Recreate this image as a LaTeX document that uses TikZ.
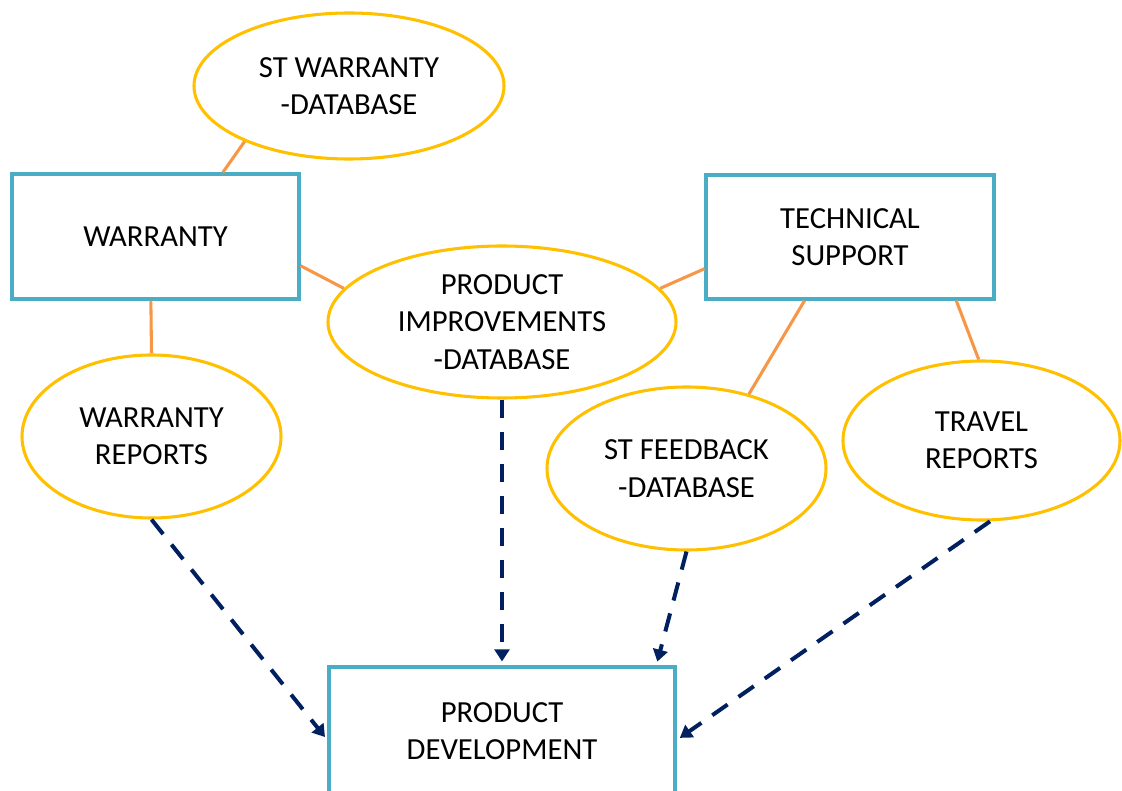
\documentclass[tikz,border=0pt]{standalone}
\usepackage{fontspec}
\setmainfont{Carlito}
\usetikzlibrary{shapes.geometric,arrows.meta,calc}
\definecolor{boxblue}{HTML}{4BACC6}
\definecolor{ellyellow}{HTML}{FFC000}
\definecolor{linkorange}{HTML}{F79646}
\definecolor{arrownavy}{HTML}{002060}
\begin{document}
\begin{tikzpicture}[x=0.75pt,y=-0.75pt,
  lbl/.style={font=\fontsize{23}{28}\selectfont, align=center, text=black},
  boxnode/.style={lbl, draw=boxblue, line width=2.3pt, fill=white, rectangle, inner sep=0pt},
  ellnode/.style={lbl, draw=ellyellow, line width=2.3pt, fill=white, ellipse, inner sep=0pt},
  link/.style={draw=linkorange, line width=2.3pt},
  flow/.style={draw=arrownavy, line width=3pt, dash pattern=on 14pt off 10pt,
    -{Triangle[length=9pt,width=11pt]}, shorten >=3pt}
]
\useasboundingbox (0,0) rectangle (1122,791);

\node[ellnode, minimum width=310*0.75pt, minimum height=146*0.75pt] (stw) at (349,86) {ST WARRANTY\\-DATABASE};
\node[boxnode, minimum width=287*0.75pt, minimum height=125*0.75pt] (war) at (155.5,236.5) {WARRANTY};
\node[boxnode, minimum width=288*0.75pt, minimum height=124*0.75pt] (ts) at (850,237) {TECHNICAL\\SUPPORT};
\node[ellnode, minimum width=348*0.75pt, minimum height=152*0.75pt] (pi) at (502,322) {PRODUCT\\IMPROVEMENTS\\-DATABASE};
\node[ellnode, minimum width=259*0.75pt, minimum height=163*0.75pt] (wr) at (151.5,436.5) {WARRANTY\\REPORTS};
\node[ellnode, minimum width=279*0.75pt, minimum height=163*0.75pt] (stf) at (686.5,468.5) {ST FEEDBACK\\-DATABASE};
\node[ellnode, minimum width=277*0.75pt, minimum height=159*0.75pt] (tr) at (981.5,440.5) {TRAVEL\\REPORTS};
\node[boxnode, minimum width=346*0.75pt, minimum height=128*0.75pt] (pd) at (502,731) {PRODUCT\\DEVELOPMENT};

% orange links
\draw[link] (stw.208) -- ($(war.north west)!0.732!(war.north east)$);
\draw[link] ($(war.north east)!0.728!(war.south east)$) -- (pi.168.6);
\draw[link] (pi.12.4) -- ($(ts.north west)!0.75!(ts.south west)$);
\draw[link] ($(war.south west)!0.484!(war.south east)$) -- (wr.north);
\draw[link] ($(ts.south west)!0.344!(ts.south east)$) -- (stf.50);
\draw[link] ($(ts.south west)!0.865!(ts.south east)$) -- (tr.92.6);

% dashed arrows
\draw[flow] (wr.south) -- ($(pd.north west)!0.57!(pd.south west)$);
\draw[flow] (pi.south) -- (pd.north);
\draw[flow] (stf.south) -- ($(pd.north west)!0.942!(pd.north east)$);
\draw[flow] (tr.-84) -- ($(pd.north east)!0.57!(pd.south east)$);
\end{tikzpicture}
\end{document}
